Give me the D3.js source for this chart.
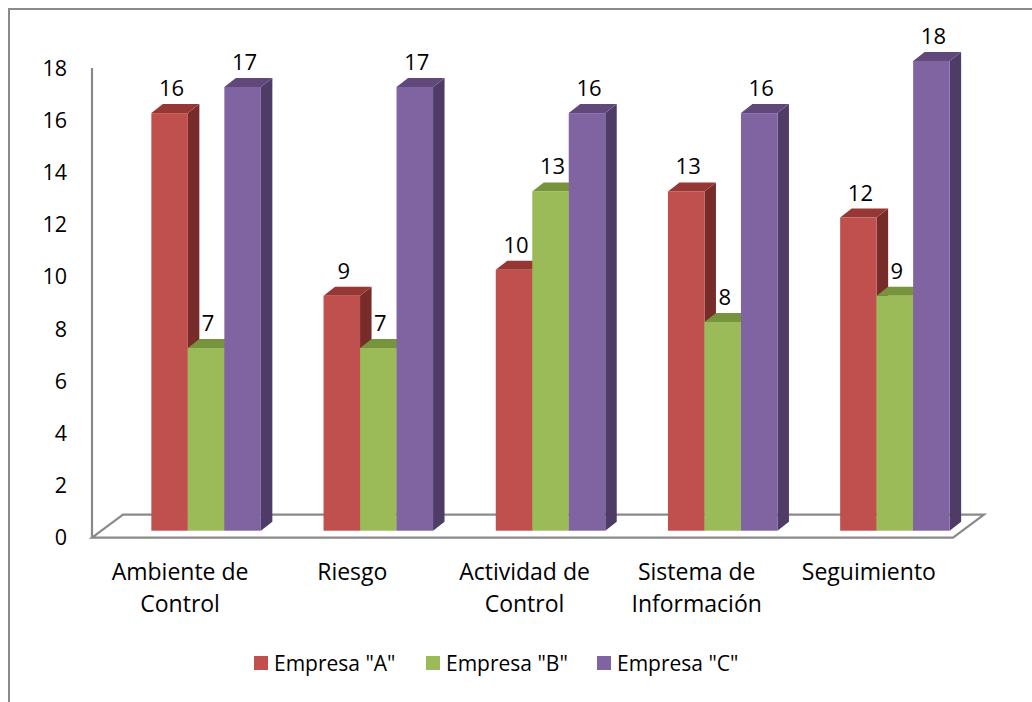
<!DOCTYPE html>
<html lang="es">
<head>
<meta charset="utf-8" />
<script src="https://cdnjs.cloudflare.com/ajax/libs/d3/7.8.5/d3.min.js"></script>
<style>
  body { margin: 0; background: #fff; }
  svg text { font-family: "Open Sans", Lato, sans-serif; fill: #000; }
</style>
</head>
<body>
<div id="chart"></div>
<script>
// data
var categories = [["Ambiente de", "Control"], ["Riesgo"], ["Actividad de", "Control"], ["Sistema de", "Información"], ["Seguimiento"]];
var seriesNames = ['Empresa "A"', 'Empresa "B"', 'Empresa "C"'];
var empresaA = [16, 9, 10, 13, 12];
var empresaB = [7, 7, 13, 8, 9];
var empresaC = [17, 17, 16, 16, 18];
var yTicks = [0, 2, 4, 6, 8, 10, 12, 14, 16, 18];

var front = ["#C0504D", "#9BBB59", "#8064A2"];
var top_ = ["#953735", "#77933C", "#60497A"];
var side = ["#772C2A", "#5F7530", "#4F3C66"];

var width = 1032, height = 702;
var svg = d3.select("#chart").append("svg")
    .attr("width", width).attr("height", height);

// outer frame
svg.append("path")
    .attr("d", "M9,702 L9,9 L1032,9")
    .attr("fill", "none").attr("stroke", "#8a8a8a").attr("stroke-width", 2);

// 3d geometry
var depthX = 31, depthY = -23;   // floor depth
var barDX = 11.5, barDY = -9;    // bar depth
var barShiftX = 28, barShiftY = -7;

var x = d3.scaleBand().domain(d3.range(categories.length)).range([92, 953]);
var y = d3.scaleLinear().domain([0, 18]).range([537.7, 67.9]);
var inner = d3.scaleBand().domain(d3.range(3)).range([0, 109.5]);

// floor
var fl = 92, fr = 953, fy = y(0);
svg.append("path")
    .attr("d", "M" + fl + "," + fy + " L" + (fl + depthX) + "," + (fy + depthY) +
        " L" + (fr + depthX) + "," + (fy + depthY) + " L" + fr + "," + fy + " Z")
    .attr("fill", "none").attr("stroke", "#8a8a8a").attr("stroke-width", 2.2);

// y axis line
svg.append("line")
    .attr("x1", fl).attr("x2", fl).attr("y1", y(18)).attr("y2", fy)
    .attr("stroke", "#8a8a8a").attr("stroke-width", 2.2);

svg.selectAll(".ytick").data(yTicks).enter().append("text")
    .attr("class", "ytick")
    .attr("x", 67).attr("y", function (d) { return y(d); })
    .attr("dy", "0.36em")
    .attr("text-anchor", "end")
    .style("font-size", "21.5px")
    .text(function (d) { return d; });

// bars
var series = [empresaA, empresaB, empresaC];
var bars = [];
series.forEach(function (vals, s) {
    vals.forEach(function (v, i) { bars.push({ s: s, i: i, v: v }); });
});

var g = svg.append("g");
bars.forEach(function (b) {
    var bw = inner.bandwidth();
    var x0 = x(b.i) + (x.bandwidth() - 109.5) / 2 + barShiftX + inner(b.s);
    var x1 = x0 + bw;
    var yb = y(0) + barShiftY;
    var yt = yb - (y(0) - y(b.v));
    b.x0 = x0; b.x1 = x1; b.yt = yt;
});
// draw order: left to right so sides get covered by next bar front
bars.sort(function (a, b) { return a.x0 - b.x0; });
bars.forEach(function (b) {
    var yb = y(0) + barShiftY;
    g.append("path")
        .attr("d", "M" + b.x1 + "," + b.yt + " L" + (b.x1 + barDX) + "," + (b.yt + barDY) +
            " L" + (b.x1 + barDX) + "," + (yb + barDY) + " L" + b.x1 + "," + yb + " Z")
        .attr("fill", side[b.s]);
    g.append("path")
        .attr("d", "M" + b.x0 + "," + b.yt + " L" + (b.x0 + barDX) + "," + (b.yt + barDY) +
            " L" + (b.x1 + barDX) + "," + (b.yt + barDY) + " L" + b.x1 + "," + b.yt + " Z")
        .attr("fill", top_[b.s]);
    g.append("rect")
        .attr("x", b.x0).attr("y", b.yt)
        .attr("width", b.x1 - b.x0).attr("height", yb - b.yt)
        .attr("fill", front[b.s]);
});

// data labels
svg.selectAll(".dlabel").data(bars).enter().append("text")
    .attr("class", "dlabel")
    .attr("x", function (d) { return (d.x0 + d.x1) / 2 + 2; })
    .attr("y", function (d) { return d.yt + barDY - 8; })
    .attr("text-anchor", "middle")
    .style("font-size", "22px")
    .text(function (d) { return d.v; });

// category labels
categories.forEach(function (lines, i) {
    var t = svg.append("text")
        .attr("x", x(i) + x.bandwidth() / 2 + 2)
        .attr("y", 580)
        .attr("text-anchor", "middle")
        .style("font-size", "23px");
    lines.forEach(function (l, k) {
        t.append("tspan").attr("x", x(i) + x.bandwidth() / 2 + 2)
            .attr("dy", k === 0 ? 0 : 31.5).text(l);
    });
});

// legend
var legendX = [254, 426, 597];
var leg = svg.selectAll(".leg").data(seriesNames).enter().append("g")
    .attr("class", "leg")
    .attr("transform", function (d, i) { return "translate(" + legendX[i] + ",663)"; });
leg.append("rect").attr("x", 0).attr("y", -7).attr("width", 14).attr("height", 14)
    .attr("fill", function (d, i) { return front[i]; });
leg.append("text").attr("x", 20).attr("y", 0).attr("dy", "0.36em")
    .style("font-size", "21px")
    .text(function (d) { return d; });
</script>
</body>
</html>
